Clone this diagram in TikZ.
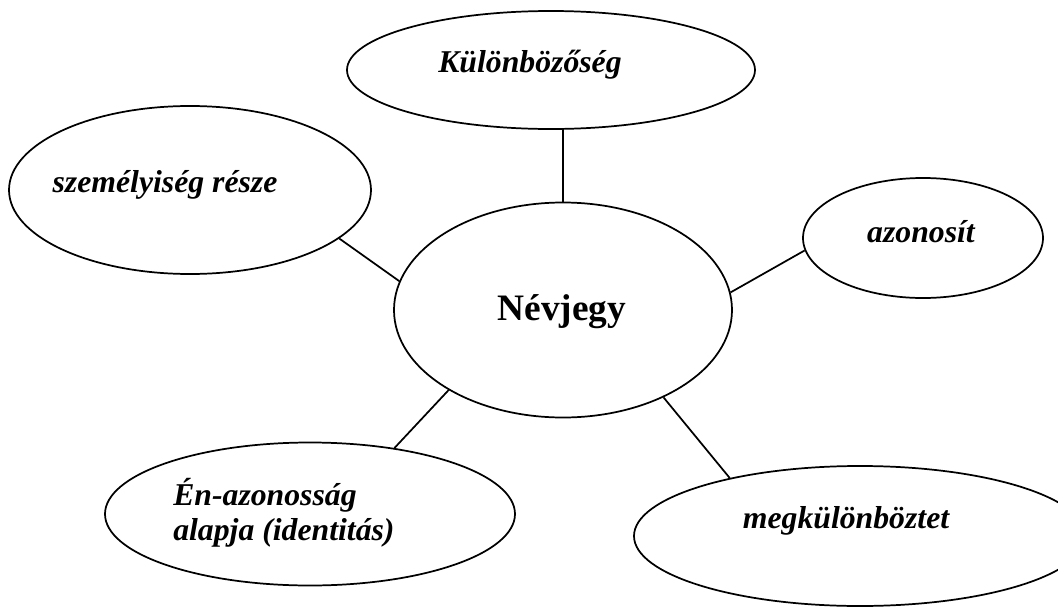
\documentclass[tikz,border=0pt]{standalone}
\usepackage{fontspec}
\setmainfont{Liberation Serif}
\usetikzlibrary{shapes.geometric}

\begin{document}
\begin{tikzpicture}[x=0.75pt,y=-0.75pt]
        \tikzstyle{buborek}=[ellipse,draw,line width=1.3pt,inner sep=0pt]
        \tikzstyle{cimke}=[anchor=base,inner sep=0pt,font=\fontsize{23.8}{26.25}\selectfont\bfseries\itshape]
        \tikzstyle{vonal}=[line width=1.3pt]
        \useasboundingbox (0,0) rectangle (1058,607);
        \clip (0,0) rectangle (1058,607);
        \node[buborek,minimum width=306pt,minimum height=88.5pt] (kulonb) at (551,70) {};
        \node[buborek,minimum width=271.5pt,minimum height=126pt] (szemely) at (190,190) {};
        \node[buborek,minimum width=253.5pt,minimum height=161.25pt] (nevjegy) at (563,310) {};
        \node[buborek,minimum width=180pt,minimum height=90pt] (azonosit) at (923,238) {};
        \node[buborek,minimum width=307.5pt,minimum height=107.25pt] (enalap) at (310,514) {};
        \node[buborek,minimum width=339pt,minimum height=105pt] (megkul) at (860,536) {};
        \node[cimke] (kulonbt) at (530,72) {Különbözőség};
        \node[cimke] (szemelyt) at (165,192) {személyiség része};
        \node[cimke,font=\fontsize{28}{32}\selectfont\bfseries] (nevjegyt) at (562,320) {Névjegy};
        \node[cimke] (azonositt) at (921,242) {azonosít};
        \node[cimke,anchor=base west,align=left] (enalapt) at (173,540) {Én-azonosság\\alapja (identitás)};
        \node[cimke] (megkult) at (846,528) {megkülönböztet};
        \draw[vonal] (kulonb.south -| nevjegy.north) -- (nevjegy.north);
        \draw[vonal] (szemely.-18) -- (nevjegy.170);
        \draw[vonal] (nevjegy.6) -- (azonosit.186);
        \draw[vonal] (nevjegy.215) -- (enalap.38);
        \draw[vonal] (nevjegy.-41) -- (megkul.156);
\end{tikzpicture}
\end{document}
